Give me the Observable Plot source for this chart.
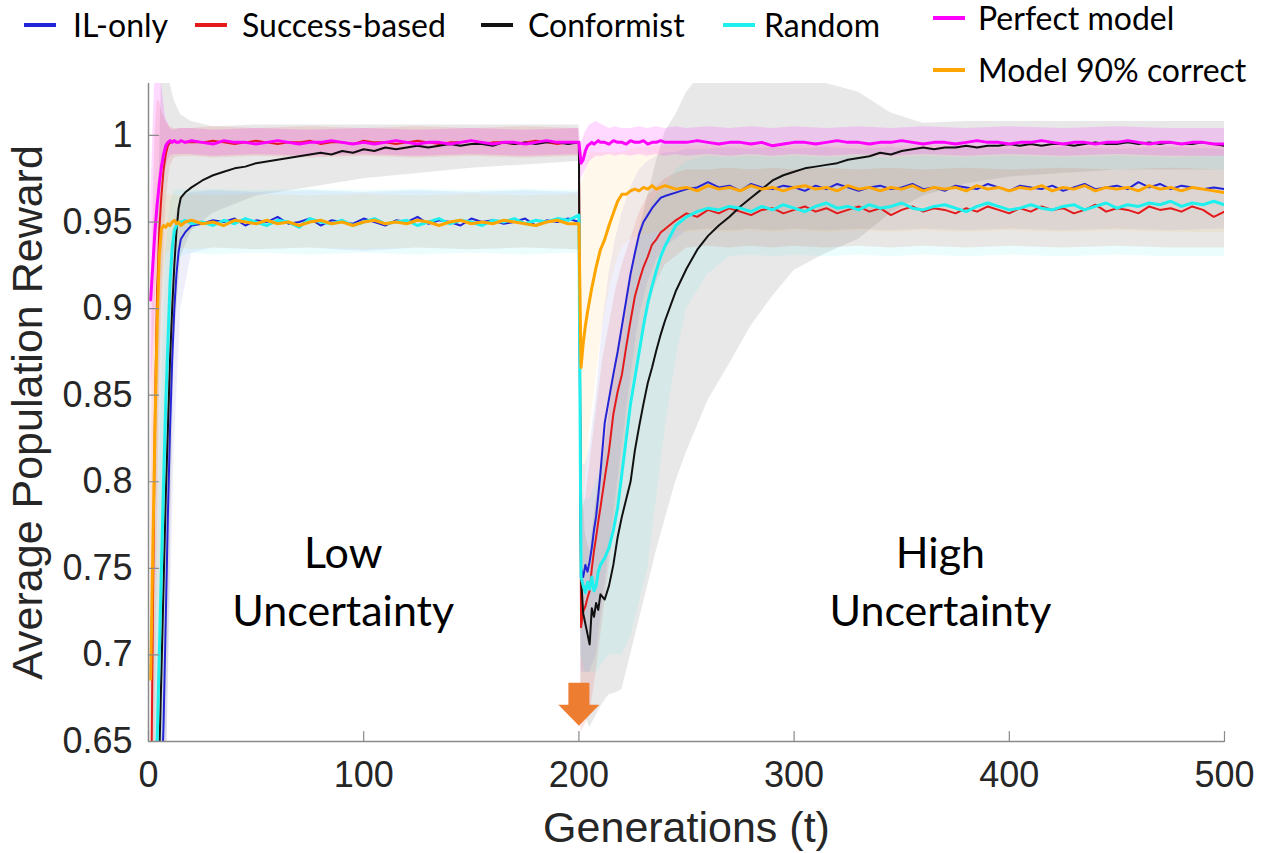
<!DOCTYPE html>
<html>
<head>
<meta charset="utf-8">
<script src="https://cdn.jsdelivr.net/npm/d3@7"></script>
<script src="https://cdn.jsdelivr.net/npm/@observablehq/plot@0.6"></script>
<style>
  body { margin: 0; background: #fff; }
  #legend { position: relative; width: 1265px; height: 83px; font-family: Lato, "Open Sans", sans-serif; font-size: 32px; color: #000; z-index: 2; }
  #legend .dash { position: absolute; height: 3.5px; }
  #legend .lab { position: absolute; line-height: 40px; white-space: nowrap; }
  svg { display: block; }
</style>
</head>
<body>
<div id="legend"></div>
<div id="chart"></div>
<script>
// ---------------- DATA ----------------
const seriesNames = ["IL-only", "Success-based", "Conformist", "Random", "Perfect model", "Model 90% correct"];

// generations at which the mean curves were read
const gens = [
  1,2,3,4,5,6,7,8,9,10,11,12,13,14,15,17,20,
  25,30,35,40,45,50,55,60,65,70,75,80,85,90,95,100,105,110,115,120,125,130,135,140,145,150,155,160,165,170,175,180,185,190,195,200,
  201,202,203,204,205,206,207,208,209,210,
  212,214,216,218,220,222,224,226,228,230,232,234,236,238,240,
  245,250,255,260,265,270,275,280,285,290,295,300,305,310,315,320,325,330,335,340,345,350,355,360,365,370,375,380,385,390,395,400,405,410,415,420,425,430,435,440,445,450,455,460,465,470,475,480,485,490,495,500
];

const ilOnly = [
  0.400,0.450,0.500,0.550,0.580,0.620,0.660,0.720,0.780,0.830,0.870,0.900,0.920,0.933,0.940,0.944,0.948,
  0.949,0.951,0.950,0.952,0.948,0.951, 0.950,0.953,0.949,0.950,0.952,0.948, 0.951,0.950,0.949,0.952,0.950,0.948, 0.951,0.950,0.953,0.949,0.951,0.950, 0.948,0.952,0.950,0.951,0.949,0.950, 0.952,0.948,0.951,0.950,0.952,0.950,
  0.750,0.745,0.752,0.748,0.754,0.762,0.772,0.780,0.792,0.805,
  0.834,0.848,0.862,0.875,0.890,0.905,0.920,0.932,0.943,0.950,0.954,0.958,0.961,0.964,0.965,
  0.967,0.969,0.970,0.973, 0.970,0.971,0.968,0.972, 0.970,0.969,0.971,0.970, 0.968,0.971,0.969,0.972, 0.970,0.968,0.970,0.971, 0.969,0.970,0.972,0.969, 0.970,0.968,0.971,0.970, 0.969,0.972,0.970,0.968, 0.971,0.970,0.969,0.971, 0.968,0.970,0.972,0.969, 0.970,0.971,0.969,0.973, 0.970,0.972,0.969,0.971, 0.970,0.969,0.970,0.969
];

const successBased = [
  0.580,0.720,0.840,0.910,0.945,0.965,0.980,0.989,0.994,0.996,0.996,0.997,0.996,0.996,0.997,0.996,0.996,
  0.996,0.997,0.996,0.995,0.996,0.997, 0.996,0.995,0.996,0.996,0.997,0.995, 0.996,0.996,0.995,0.997,0.996,0.996, 0.995,0.996,0.997,0.996,0.995,0.996, 0.996,0.997,0.995,0.996,0.996,0.995, 0.996,0.997,0.996,0.995,0.996,0.996,
  0.716,0.725,0.728,0.733,0.737,0.750,0.760,0.768,0.777,0.785,
  0.802,0.818,0.839,0.852,0.862,0.878,0.893,0.907,0.916,0.924,0.930,0.937,0.940,0.944,0.946,
  0.951,0.955,0.953,0.957, 0.955,0.958,0.956,0.954, 0.957,0.958,0.955,0.957, 0.959,0.956,0.958,0.955, 0.957,0.959,0.956,0.958, 0.954,0.957,0.959,0.956, 0.958,0.957,0.955,0.958, 0.956,0.959,0.957,0.955, 0.958,0.956,0.959,0.957, 0.958,0.955,0.957,0.960, 0.956,0.958,0.957,0.955, 0.959,0.957,0.958,0.956, 0.959,0.957,0.953,0.956
];

const conformist = [
  0.450,0.500,0.550,0.600,0.640,0.690,0.740,0.790,0.830,0.870,0.900,0.925,0.945,0.958,0.964,0.967,0.970,
  0.974,0.977,0.979,0.981,0.982,0.984, 0.985,0.986,0.987,0.988,0.989,0.990, 0.989,0.991,0.990,0.992,0.991,0.993, 0.992,0.993,0.994,0.993,0.994,0.995, 0.994,0.995,0.995,0.994,0.996,0.995, 0.996,0.995,0.996,0.996,0.995,0.996,
  0.745,0.724,0.718,0.712,0.706,0.727,0.722,0.730,0.726,0.735,
  0.732,0.740,0.752,0.768,0.780,0.790,0.800,0.818,0.832,0.845,0.857,0.866,0.876,0.885,0.893,
  0.910,0.923,0.934,0.942, 0.948,0.953,0.959,0.964, 0.969,0.974,0.977,0.979, 0.981,0.982,0.983,0.984, 0.986,0.987,0.988,0.990, 0.989,0.991,0.992,0.993, 0.992,0.993,0.993,0.994, 0.993,0.994,0.994,0.995, 0.994,0.995,0.994,0.995, 0.995,0.994,0.995,0.996, 0.995,0.995,0.996,0.995, 0.996,0.995,0.996,0.995, 0.995,0.996,0.995,0.994
];

const randomS = [
  0.500,0.550,0.600,0.650,0.700,0.750,0.800,0.845,0.880,0.915,0.935,0.945,0.948,0.950,0.950,0.951,0.949,
  0.950,0.948,0.951,0.949,0.952,0.950, 0.948,0.951,0.950,0.947,0.952,0.950, 0.949,0.951,0.948,0.950,0.952,0.949, 0.950,0.951,0.948,0.950,0.952,0.949, 0.951,0.950,0.948,0.951,0.950,0.952, 0.949,0.951,0.950,0.952,0.951,0.954,
  0.745,0.740,0.736,0.742,0.738,0.745,0.737,0.740,0.748,0.752,
  0.756,0.762,0.772,0.785,0.805,0.825,0.845,0.860,0.875,0.890,0.903,0.913,0.922,0.930,0.936,
  0.948,0.953,0.956,0.958, 0.957,0.959,0.958,0.956, 0.959,0.957,0.960,0.958, 0.956,0.959,0.961,0.958, 0.959,0.957,0.960,0.958, 0.959,0.961,0.958,0.957, 0.959,0.960,0.958,0.956, 0.959,0.961,0.959,0.957, 0.958,0.960,0.958,0.957, 0.959,0.960,0.957,0.959, 0.961,0.958,0.960,0.959, 0.961,0.960,0.962,0.959, 0.961,0.960,0.962,0.960
];

const perfectModel = [
  0.905,0.925,0.945,0.960,0.972,0.982,0.989,0.994,0.996,0.997,0.996,0.997,0.996,0.996,0.997,0.996,0.997,
  0.996,0.995,0.997,0.996,0.996,0.995, 0.996,0.997,0.996,0.995,0.996,0.996, 0.997,0.996,0.995,0.996,0.995,0.996, 0.997,0.996,0.995,0.996,0.996,0.995, 0.996,0.997,0.996,0.995,0.996,0.996, 0.995,0.996,0.997,0.996,0.996,0.996,
  0.984,0.986,0.991,0.994,0.995,0.996,0.995,0.996,0.997,0.996,
  0.996,0.995,0.997,0.996,0.996,0.995,0.997,0.996,0.996,0.997,0.995,0.996,0.996,0.997,0.996,
  0.996,0.996,0.997,0.996, 0.995,0.996,0.996,0.995, 0.996,0.994,0.995,0.996, 0.996,0.995,0.996,0.997, 0.996,0.996,0.995,0.996, 0.996,0.997,0.996,0.995, 0.996,0.996,0.995,0.996, 0.997,0.996,0.996,0.995, 0.996,0.996,0.997,0.996, 0.995,0.996,0.996,0.995, 0.996,0.996,0.997,0.996, 0.995,0.996,0.996,0.995, 0.996,0.996,0.995,0.995
];

const model90 = [
  0.686,0.760,0.830,0.890,0.930,0.946,0.948,0.947,0.949,0.948,0.950,0.951,0.949,0.950,0.948,0.950,0.951,
  0.949,0.950,0.948,0.951,0.950,0.949, 0.951,0.949,0.950,0.948,0.950,0.951, 0.949,0.950,0.948,0.950,0.951,0.949, 0.950,0.949,0.951,0.950,0.948,0.950, 0.951,0.949,0.950,0.949,0.951,0.950, 0.949,0.948,0.950,0.951,0.949,0.949,
  0.866,0.880,0.890,0.898,0.905,0.912,0.918,0.924,0.929,0.934,
  0.940,0.948,0.955,0.962,0.966,0.966,0.968,0.969,0.968,0.970,0.969,0.971,0.969,0.970,0.971,
  0.969,0.970,0.968,0.971, 0.969,0.970,0.968,0.971, 0.969,0.970,0.968,0.970, 0.971,0.969,0.970,0.968, 0.971,0.969,0.970,0.968, 0.970,0.969,0.971,0.968, 0.970,0.969,0.970,0.968, 0.971,0.969,0.970,0.968, 0.970,0.969,0.971,0.968, 0.970,0.969,0.971,0.968, 0.970,0.969,0.970,0.968, 0.971,0.969,0.970,0.968, 0.970,0.969,0.968,0.967
];

// generations at which the shaded spread (band edges) was read
const bandGens = [1,2,3,4,5,6,8,10,12,15, 20,30,50,75,100,125,150,175,199,200, 201,203,205,208,211,214,217,220,224,228, 232,236,240,245,250,260,270,280,290,300, 315,330,345,360,380,400,425,450,475,500];

const ilOnlyLo = [0.300,0.300,0.300,0.350,0.400,0.550,0.620,0.720,0.820,0.900, 0.932,0.935,0.934,0.935,0.933,0.935,0.934,0.935,0.934,0.934, 0.690,0.690,0.690,0.700,0.730,0.760,0.790,0.820,0.860,0.895, 0.915,0.928,0.935,0.940,0.945,0.946,0.945,0.946,0.945,0.946, 0.945,0.946,0.945,0.946,0.945,0.946,0.945,0.946,0.945,0.946];
const ilOnlyHi = [0.500,0.550,0.600,0.650,0.700,0.750,0.850,0.920,0.950,0.965, 0.967,0.968,0.967,0.968,0.967,0.968,0.967,0.968,0.967,0.968, 0.810,0.810,0.820,0.850,0.890,0.920,0.940,0.955,0.970,0.980, 0.985,0.988,0.990,0.990,0.992,0.992,0.993,0.992,0.993,0.992, 0.993,0.992,0.993,0.992,0.993,0.992,0.993,0.992,0.993,0.992];
const successLo = [0.400,0.500,0.650,0.750,0.850,0.900,0.960,0.982,0.987,0.988, 0.988,0.987,0.988,0.987,0.988,0.987,0.988,0.987,0.988,0.988, 0.655,0.660,0.665,0.690,0.720,0.750,0.780,0.810,0.850,0.880, 0.900,0.915,0.925,0.930,0.935,0.936,0.935,0.936,0.935,0.936, 0.935,0.936,0.935,0.936,0.935,0.936,0.935,0.936,0.935,0.935];
const successHi = [0.800,0.950,1.000,1.020,1.020,1.015,1.008,1.005,1.004,1.004, 1.004,1.005,1.004,1.005,1.004,1.005,1.004,1.005,1.004,1.004, 0.780,0.790,0.810,0.840,0.870,0.890,0.910,0.925,0.940,0.955, 0.965,0.970,0.975,0.978,0.980,0.980,0.981,0.980,0.981,0.980, 0.981,0.980,0.981,0.980,0.981,0.980,0.981,0.980,0.981,0.980];
const conformistLo = [0.300,0.300,0.350,0.400,0.450,0.500,0.600,0.750,0.880,0.930, 0.945,0.955,0.965,0.970,0.975,0.978,0.981,0.983,0.985,0.985, 0.680,0.665,0.658,0.665,0.672,0.677,0.678,0.680,0.700,0.720, 0.740,0.760,0.778,0.800,0.817,0.847,0.868,0.890,0.907,0.922, 0.932,0.940,0.955,0.965,0.972,0.976,0.978,0.980,0.980,0.980];
const conformistHi = [0.600,0.700,0.800,0.900,0.980,1.035,1.035,1.030,1.020,1.012, 1.008,1.005,1.006,1.006,1.006,1.006,1.006,1.006,1.006,1.006, 0.810,0.770,0.760,0.790,0.810,0.840,0.870,0.890,0.920,0.945, 0.965,0.985,1.002,1.012,1.025,1.040,1.040,1.040,1.040,1.035, 1.030,1.025,1.013,1.007,1.008,1.008,1.008,1.008,1.008,1.008];
const randomLo = [0.300,0.350,0.400,0.550,0.580,0.620,0.720,0.850,0.920,0.930, 0.932,0.931,0.932,0.931,0.932,0.931,0.932,0.931,0.932,0.932, 0.700,0.690,0.690,0.690,0.695,0.700,0.700,0.700,0.710,0.730, 0.750,0.790,0.830,0.870,0.900,0.920,0.930,0.931,0.930,0.931, 0.930,0.931,0.930,0.931,0.930,0.931,0.930,0.931,0.930,0.930];
const randomHi = [0.600,0.650,0.700,0.750,0.800,0.850,0.930,0.960,0.968,0.969, 0.968,0.969,0.968,0.969,0.968,0.969,0.968,0.969,0.968,0.969, 0.790,0.790,0.790,0.800,0.810,0.820,0.850,0.870,0.910,0.940, 0.955,0.965,0.970,0.980,0.985,0.988,0.987,0.988,0.987,0.988, 0.987,0.988,0.987,0.988,0.987,0.988,0.987,0.988,0.987,0.988];
const perfectLo = [0.850,0.870,0.900,0.930,0.950,0.965,0.982,0.988,0.989,0.989, 0.989,0.988,0.989,0.988,0.989,0.988,0.989,0.988,0.989,0.989, 0.975,0.980,0.985,0.988,0.988,0.989,0.988,0.989,0.988,0.989, 0.988,0.989,0.988,0.989,0.988,0.989,0.988,0.989,0.988,0.989, 0.988,0.989,0.988,0.989,0.988,0.989,0.988,0.989,0.988,0.988];
const perfectHi = [0.960,1.000,1.035,1.035,1.035,1.030,1.010,1.004,1.003,1.004, 1.004,1.003,1.004,1.003,1.004,1.003,1.004,1.003,1.004,1.004, 0.995,1.002,1.006,1.008,1.006,1.004,1.005,1.004,1.004,1.005, 1.004,1.005,1.004,1.005,1.004,1.005,1.004,1.005,1.004,1.005, 1.004,1.005,1.004,1.005,1.004,1.005,1.004,1.005,1.004,1.004];
const model90Lo = [0.600,0.650,0.720,0.800,0.860,0.900,0.930,0.934,0.935,0.935, 0.934,0.935,0.934,0.935,0.934,0.935,0.934,0.935,0.934,0.934, 0.760,0.800,0.830,0.860,0.890,0.910,0.925,0.935,0.940,0.942, 0.943,0.944,0.944,0.945,0.944,0.945,0.944,0.945,0.944,0.945, 0.944,0.945,0.944,0.945,0.944,0.945,0.944,0.945,0.944,0.944];
const model90Hi = [0.780,0.850,0.930,0.970,0.980,0.975,0.966,0.965,0.966,0.965, 0.966,0.965,0.966,0.965,0.966,0.965,0.966,0.965,0.966,0.966, 0.970,0.980,0.990,0.990,0.990,0.990,0.990,0.990,0.992,0.993, 0.993,0.994,0.994,0.994,0.994,0.994,0.994,0.994,0.994,0.994, 0.994,0.994,0.994,0.994,0.994,0.994,0.994,0.994,0.994,0.994];

// axes
const xTicks = [0, 100, 200, 300, 400, 500];
const yTicks = [0.65, 0.7, 0.75, 0.8, 0.85, 0.9, 0.95, 1];

// annotations
const annotationLabels = ["Low\nUncertainty", "High\nUncertainty"];
const annotationGens = [90.5, 368];
const annotationValues = [0.744, 0.744];

// environment-change marker
const changeGen = [200];
const changeValue = [0.684];

// ---------------- STYLE ----------------
const seriesColors = ["#2323d8", "#e3191b", "#111111", "#1ff0ee", "#ff00ff", "#ffa500"];
const bandColors = ["#2323d8", "#e3191b", "#000000", "#1ff0ee", "#ff00ff", "#ffa500"];
const seriesWidths = [2, 2, 2, 3, 3, 3];
const bandOpacity = [0.07, 0.11, 0.09, 0.09, 0.15, 0.08];

const means = [ilOnly, successBased, conformist, randomS, perfectModel, model90];
const bandLo = [ilOnlyLo, successLo, conformistLo, randomLo, perfectLo, model90Lo];
const bandHi = [ilOnlyHi, successHi, conformistHi, randomHi, perfectHi, model90Hi];

// ---------------- LEGEND ----------------
const legendLayout = [
  {dash: 24, text: 73, cy: 25},
  {dash: 195, text: 242, cy: 25},
  {dash: 481, text: 528, cy: 25},
  {dash: 723, text: 764, cy: 25},
  {dash: 933, text: 978, cy: 18},
  {dash: 933, text: 978, cy: 70}
];
const legend = document.getElementById("legend");
seriesNames.forEach((name, i) => {
  const L = legendLayout[i];
  const d = document.createElement("div");
  d.className = "dash";
  d.style.left = L.dash + "px";
  d.style.width = "32px";
  d.style.top = (L.cy - 1.75) + "px";
  d.style.background = seriesColors[i];
  legend.appendChild(d);
  const s = document.createElement("div");
  s.className = "lab";
  s.style.left = L.text + "px";
  s.style.top = (L.cy - 20) + "px";
  s.textContent = name;
  legend.appendChild(s);
});

// ---------------- CHART ----------------
const tickShape = {draw(ctx, l) { ctx.moveTo(0, 0); ctx.lineTo(0, -l); }};
const blockArrow = {draw(ctx, l) {
  const sw = 10.5, hw = 20.5, hl = 21;
  ctx.moveTo(-sw, 0); ctx.lineTo(-sw, -(l - hl)); ctx.lineTo(-hw, -(l - hl));
  ctx.lineTo(0, -l); ctx.lineTo(hw, -(l - hl)); ctx.lineTo(sw, -(l - hl)); ctx.lineTo(sw, 0); ctx.closePath();
}};

const bandMarks = [2, 0, 1, 3, 5, 4].map(i =>
  Plot.areaY(bandGens.map((t, j) => ({t, lo: bandLo[i][j], hi: bandHi[i][j]})), {
    x: "t", y1: "lo", y2: "hi", fill: bandColors[i], fillOpacity: bandOpacity[i], clip: true
  })
);
const lineMarks = [0, 1, 2, 3, 4, 5].map(i =>
  Plot.lineY(gens.map((t, j) => ({t, v: means[i][j]})), {
    x: "t", y: "v", stroke: seriesColors[i], strokeWidth: seriesWidths[i],
    strokeLinejoin: "round", clip: true
  })
);

const chart = Plot.plot({
  width: 1265,
  height: 770,
  marginLeft: 148,
  marginRight: 41,
  marginTop: 0,
  marginBottom: 112,
  x: {domain: [0, 500], label: null},
  y: {domain: [0.65, 1.03], label: null},
  style: {fontFamily: '"Liberation Sans", Arial, sans-serif', fontSize: "36px", color: "#262626", background: "white", overflow: "visible"},
  marks: [
    ...bandMarks,
    ...lineMarks,
    Plot.ruleY([0.65], {stroke: "#8a8a8a", strokeWidth: 1.5}),
    Plot.ruleX([0], {stroke: "#8a8a8a", strokeWidth: 1.5}),
    Plot.vector(xTicks, {x: d => d, frameAnchor: "bottom", length: 10, anchor: "start", shape: tickShape, stroke: "#8a8a8a", strokeWidth: 1.2}),
    Plot.vector(yTicks, {y: d => d, frameAnchor: "left", length: 10, rotate: 90, anchor: "start", shape: tickShape, stroke: "#8a8a8a", strokeWidth: 1.2}),
    Plot.axisX({ticks: xTicks, tickSize: 0, tickPadding: 20, label: null, fontSize: 36, fill: "#262626"}),
    Plot.axisY({ticks: yTicks, tickSize: 0, tickPadding: 16, label: null, fontSize: 36, fill: "#262626", tickFormat: d3.format("~g")}),
    Plot.text(["Generations (t)"], {text: d => d, frameAnchor: "bottom", lineAnchor: "middle", textAnchor: "middle", dy: 87, fontSize: 43, fill: "#262626"}),
    Plot.text(["Average Population Reward"], {text: d => d, frameAnchor: "left", textAnchor: "middle", lineAnchor: "middle", dx: -120, rotate: -90, fontSize: 43, fill: "#262626"}),
    Plot.text(annotationLabels.map((label, i) => ({label, t: annotationGens[i], v: annotationValues[i]})), {
      x: "t", y: "v", text: "label", fontFamily: "Lato, 'Open Sans', sans-serif", fontSize: 43, lineHeight: 1.33, fill: "#000"
    }),
    Plot.vector(changeGen.map((t, i) => ({t, v: changeValue[i]})), {
      x: "t", y: "v", length: 43, rotate: 180, anchor: "start", shape: blockArrow, fill: "#ed7d31", stroke: "none"
    })
  ]
});
document.getElementById("chart").appendChild(chart);
</script>
</body>
</html>
